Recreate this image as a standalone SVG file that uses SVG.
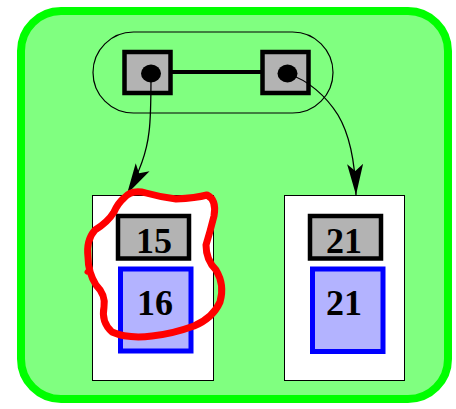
<svg xmlns="http://www.w3.org/2000/svg" width="456" height="409" viewBox="0 0 456 409">
  <style>
    .cell { fill: #b3b3b3; stroke: #000; stroke-width: 4.5; }
    .val { fill: #b3b3ff; stroke: #0000ff; stroke-width: 5; }
    .box { fill: #fff; stroke: #000; stroke-width: 1; }
    .num { font-family: "Liberation Serif", "Times New Roman", serif; font-weight: bold; font-size: 36px; fill: #000; text-anchor: middle; }
    .edge { fill: none; stroke: #000; stroke-width: 1.3; }
  </style>
  <defs>
    <marker id="arrow" markerUnits="userSpaceOnUse" markerWidth="32" markerHeight="18" viewBox="0 0 32 18" refX="31" refY="9" orient="auto">
      <path d="M0,1 L31,9 L0,17 L7,9 Z" fill="#000"/>
    </marker>
  </defs>

  <!-- outer frame -->
  <rect id="frame" x="21" y="11" width="427" height="388" rx="40" ry="40" fill="#80ff80" stroke="#00ff00" stroke-width="8"/>

  <!-- pair node -->
  <g id="pair">
    <rect x="93" y="32" width="240" height="81" rx="40.5" ry="40.5" fill="none" stroke="#000" stroke-width="1.2"/>
    <line x1="172" y1="72" x2="262" y2="72" stroke="#000" stroke-width="4"/>
    <rect class="cell" x="124.5" y="52" width="46" height="41"/>
    <ellipse cx="151" cy="73.5" rx="10" ry="9"/>
    <rect class="cell" x="262.5" y="52" width="46" height="41"/>
    <ellipse cx="287.5" cy="73.5" rx="10" ry="9"/>
  </g>

  <!-- left record -->
  <g id="left">
    <rect class="box" x="92.5" y="195.5" width="121" height="185"/>
    <rect class="cell" x="118" y="216" width="71" height="42.5"/>
    <text class="num" x="154" y="253">15</text>
    <rect class="val" x="120.5" y="269" width="70.5" height="82"/>
    <text class="num" x="155" y="315">16</text>
  </g>

  <!-- right record -->
  <g id="right">
    <rect class="box" x="284.5" y="195.5" width="120" height="185"/>
    <rect class="cell" x="310" y="216" width="71" height="42.5"/>
    <text class="num" x="344" y="253">21</text>
    <rect class="val" x="312.5" y="269" width="70.5" height="82.5"/>
    <text class="num" x="344" y="315">21</text>
  </g>

  <!-- connectors -->
  <g id="edges">
    <path class="edge" d="M151,74 C151,100 151,118 149,132 C147,150 141,170 127,194" marker-end="url(#arrow)"/>
    <path class="edge" d="M288,74 C308,80 326,96 338,115 C350,135 355,160 356,195" marker-end="url(#arrow)"/>
  </g>

  <!-- red mark around the left record -->
  <path id="scribble" fill="none" stroke="#ff0000" stroke-width="7" stroke-linejoin="round" stroke-linecap="round"
        d="M124,198 Q132,189 146,193 Q160,197 176,199 Q196,198 207,195 Q217,200 214,216 Q210,232 206,245 Q206,260 216,270 Q225,285 220,302 Q213,318 194,326 Q172,334 152,336 Q128,339 112,332 Q101,322 104,307 Q106,295 96,285 Q88,272 88,257 Q86,240 95,230 Q108,222 114,212 Q118,203 124,198 Z"/>
  <path d="M90,268 L87,272" stroke="#ff0000" stroke-width="5" stroke-linecap="round"/>
</svg>
